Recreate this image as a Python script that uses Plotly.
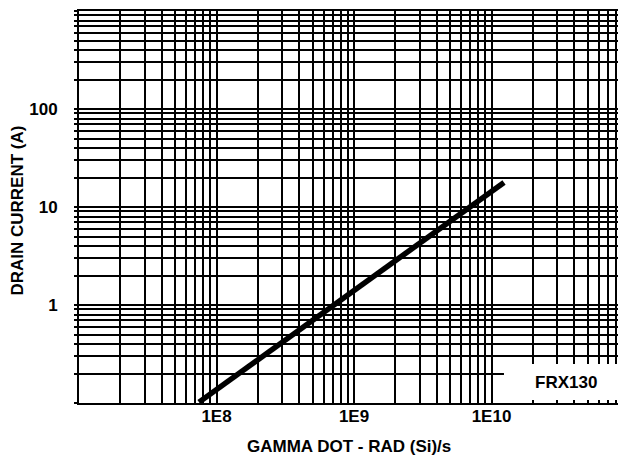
import plotly.graph_objects as go

# Data (line endpoints)
gamma_dot = [7.46e7, 1.233e10]
drain_current = [0.102, 17.8]

# Axis tick labels
x_decades = [1e7, 1e8, 1e9, 1e10]
x_labels = {1e8: "1E8", 1e9: "1E9", 1e10: "1E10"}
y_decades = [0.1, 1, 10, 100]
y_labels = {1: "1", 10: "10", 100: "100"}
series_label = "FRX130"

def grid_vals(decades, labels, top):
    vals, texts = [], []
    for d in decades:
        for k in range(1, 10):
            v = k * d
            vals.append(v)
            lab = ""
            for key, t in labels.items():
                if abs(v - key) / key < 1e-9:
                    lab = t
            texts.append(lab)
    vals.append(top)
    texts.append("")
    return vals, texts

xv, xt = grid_vals(x_decades, x_labels, 1e11)
yv, yt = grid_vals(y_decades, y_labels, 1000)

FONT = "Liberation Sans, Arial, sans-serif"

fig = go.Figure()
fig.add_trace(go.Scatter(x=gamma_dot, y=drain_current, mode="lines",
                         line=dict(color="black", width=5.5), showlegend=False))

fig.update_layout(
    width=619, height=453,
    margin=dict(l=71, r=0, t=3, b=58),
    paper_bgcolor="white", plot_bgcolor="white",
    font=dict(family=FONT, size=17, color="black", weight="bold"),
    xaxis=dict(type="log", range=[7, 7 + 548 / 137.5],
               tickmode="array", tickvals=xv, ticktext=xt,
               showgrid=True, gridcolor="black", gridwidth=1.5,
               showline=True, linecolor="black", linewidth=2, mirror=True,
               ticks="", ticklabelstandoff=-3,
               tickfont=dict(size=17, weight="bold"), zeroline=False),
    yaxis=dict(type="log", range=[-1, 3],
               tickmode="array", tickvals=yv, ticktext=yt,
               showgrid=True, gridcolor="black", gridwidth=1.5,
               showline=True, linecolor="black", linewidth=2, mirror=False,
               ticks="outside", ticklen=3, tickcolor="black", tickwidth=1.5,
               ticklabelstandoff=13,
               tickfont=dict(size=17, weight="bold"), zeroline=False),
    shapes=[dict(type="rect", xref="paper", yref="paper",
                 x0=0.7755, x1=0.985, y0=0.0077, y1=0.0995,
                 fillcolor="white", line=dict(width=0), layer="above")],
    annotations=[
        dict(text="GAMMA DOT - RAD (Si)/s", xref="paper", yref="paper",
             x=0.4918, y=-0.1097, xanchor="center", yanchor="middle",
             showarrow=False, font=dict(size=17, weight="bold")),
        dict(text="DRAIN CURRENT (A)", xref="paper", yref="paper",
             x=-0.112, y=0.4898, xanchor="center", yanchor="middle",
             textangle=-90, showarrow=False, borderpad=0,
             font=dict(size=17, weight="bold")),
        dict(text=series_label, xref="paper", yref="paper",
             x=0.8878, y=0.0523, xanchor="center", yanchor="middle",
             showarrow=False, font=dict(size=17, weight="bold")),
    ],
)

fig.write_html("out.html")
